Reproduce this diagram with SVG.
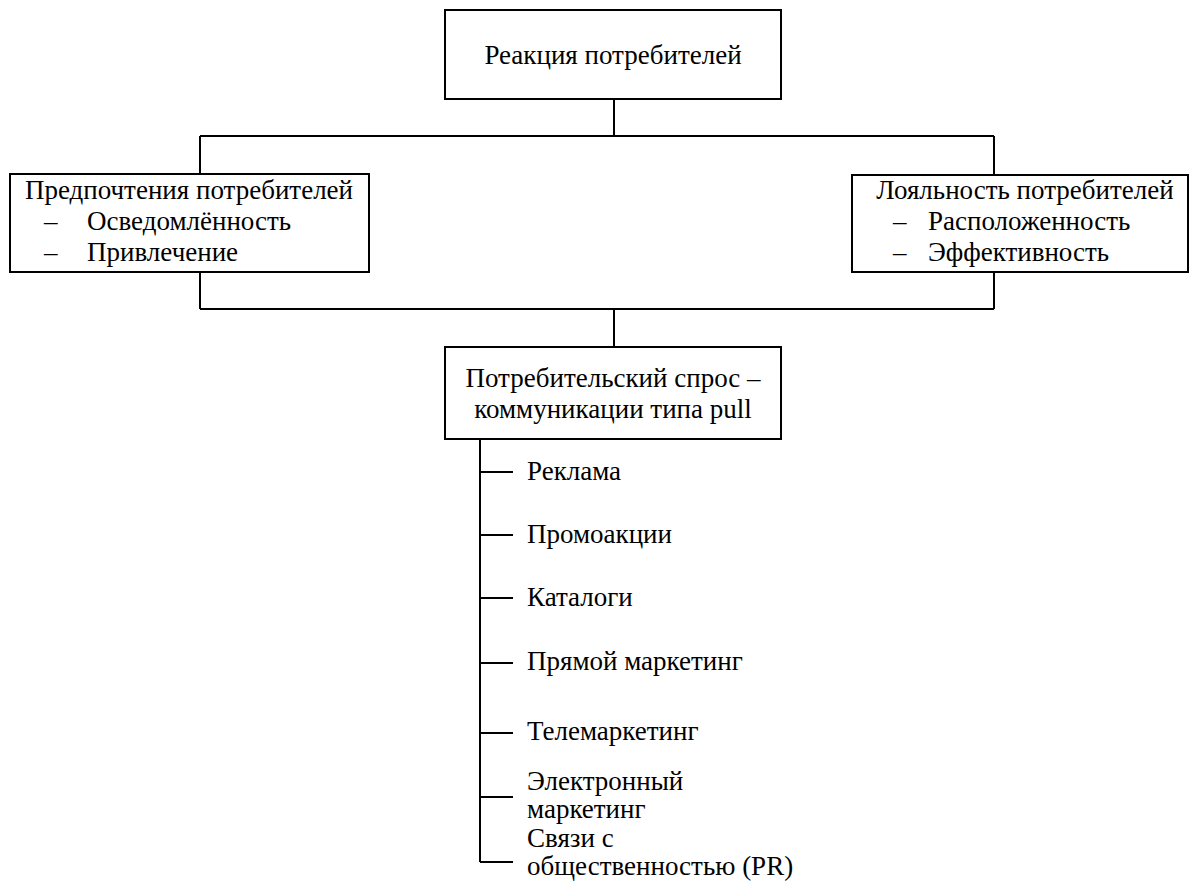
<svg xmlns="http://www.w3.org/2000/svg" width="1200" height="890" viewBox="0 0 1200 890">
<style>
.box{fill:#fff;stroke:#000;stroke-width:2}
.ln{stroke:#000;stroke-width:2;fill:none}
.t{font-family:'Liberation Serif','Times New Roman',serif;font-size:27px;fill:#000}
.c{text-anchor:middle}
</style>
<rect width="1200" height="890" fill="#fff"/>
<g id="connectors">
<path class="ln" d="M614,99V136M200,136H994M200,136V174M994,136V175"/>
<path class="ln" d="M200,272V309M994,272V309M200,309H994M614,309V347"/>
<path class="ln" d="M480,439V862M480,472H513M480,535H513M480,598H513M480,663H513M480,733H513M480,797H513M480,862H513"/>
</g>
<g id="n-top">
<rect class="box" x="445" y="10" width="336" height="89"/>
<text class="t c" x="613" y="64">Реакция потребителей</text>
</g>
<g id="n-left">
<rect class="box" x="10" y="174" width="359" height="98"/>
<text class="t c" x="189" y="199">Предпочтения потребителей</text>
<text class="t" x="44" y="230">–</text><text class="t" x="87" y="230">Осведомлённость</text>
<text class="t" x="44" y="261">–</text><text class="t" x="87" y="261">Привлечение</text>
</g>
<g id="n-right">
<rect class="box" x="852" y="175" width="336" height="97"/>
<text class="t c" x="1025" y="199">Лояльность потребителей</text>
<text class="t" x="893" y="230">–</text><text class="t" x="928" y="230">Расположенность</text>
<text class="t" x="893" y="261">–</text><text class="t" x="928" y="261">Эффективность</text>
</g>
<g id="n-mid">
<rect class="box" x="445" y="347" width="336" height="92"/>
<text class="t c" x="613" y="387">Потребительский спрос –</text>
<text class="t c" x="613" y="418">коммуникации типа pull</text>
</g>
<g id="n-list">
<text class="t" x="527" y="480">Реклама</text>
<text class="t" x="527" y="543">Промоакции</text>
<text class="t" x="527" y="606">Каталоги</text>
<text class="t" x="527" y="670">Прямой маркетинг</text>
<text class="t" x="527" y="740">Телемаркетинг</text>
<text class="t" x="527" y="790">Электронный</text>
<text class="t" x="527" y="818">маркетинг</text>
<text class="t" x="527" y="847">Связи с</text>
<text class="t" x="527" y="875">общественностью (PR)</text>
</g>
</svg>
